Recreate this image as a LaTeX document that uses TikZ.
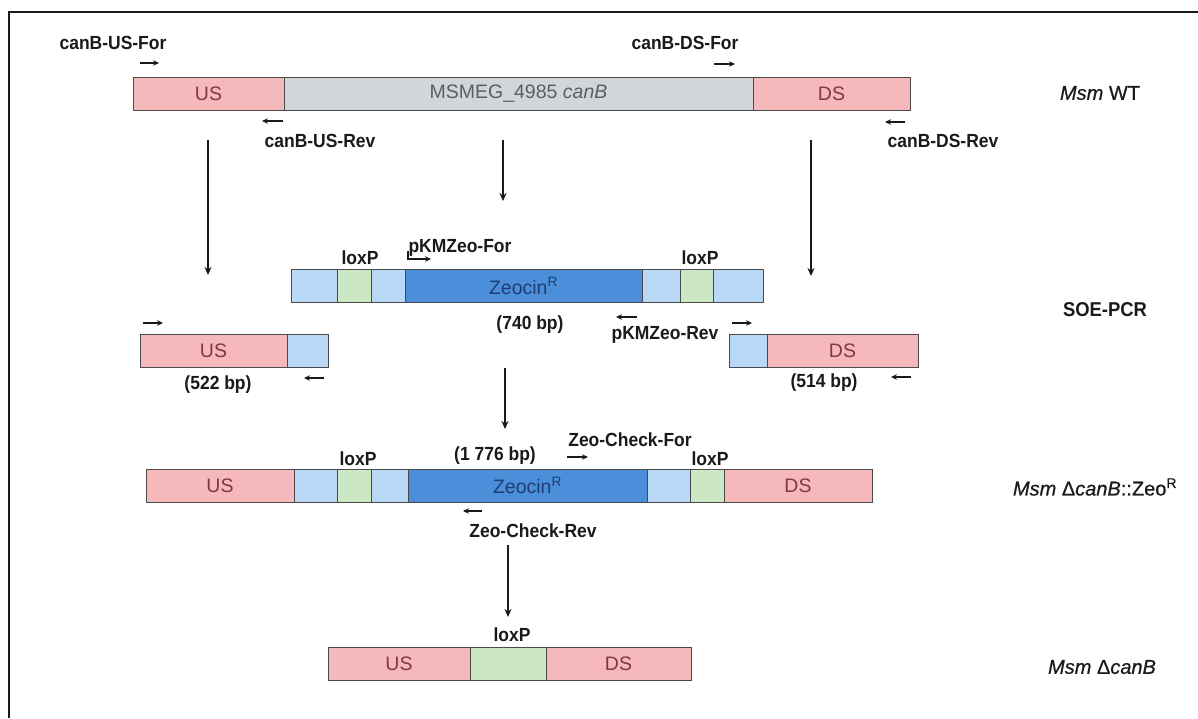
\documentclass[tikz,border=0pt]{standalone}
\usepackage{fontspec}
\setmainfont{Liberation Sans}
\newfontfamily\lblfont[FakeStretch=0.92]{Liberation Sans}
\newfontfamily\sidefont[FakeBold=0.6]{Liberation Sans}
\usetikzlibrary{arrows.meta}
\definecolor{pinkf}{HTML}{F5B9BB}
\definecolor{pinkt}{HTML}{7E3A3E}
\definecolor{grayf}{HTML}{D3D6D8}
\definecolor{grayt}{HTML}{5A5F63}
\definecolor{lbluef}{HTML}{B8D8F6}
\definecolor{greenf}{HTML}{CCE7C3}
\definecolor{dbluef}{HTML}{4B8FDA}
\definecolor{dbluet}{HTML}{1F3D72}
\definecolor{segline}{HTML}{4A4A4A}
\definecolor{ink}{HTML}{1A1A1A}
\newcommand{\segm}[6][]{\node[#1, minimum width={(#4-#3)*1pt}] (#2) at (#3,#5) {#6};}
\begin{document}
\begin{tikzpicture}[x=1pt,y=-1pt,
  seg/.style={draw=segline, line width=0.9pt, minimum height=33pt, inner sep=0pt, outer sep=0pt, anchor=west, font=\fontsize{19.5}{19.5}\selectfont},
  pinkseg/.style={seg, fill=pinkf, text=pinkt},
  grayseg/.style={seg, fill=grayf, text=grayt},
  lblueseg/.style={seg, fill=lbluef},
  greenseg/.style={seg, fill=greenf},
  dblueseg/.style={seg, fill=dbluef, text=dbluet},
  lbl/.style={text=ink, inner sep=0pt, font=\lblfont\bfseries\fontsize{19}{19}\selectfont},
  side/.style={text=ink, inner sep=0pt, font=\sidefont\fontsize{20}{20}\selectfont},
  primer/.style={draw=ink, line width=1.3pt, -{Stealth[length=6pt,width=5.5pt]}},
  flow/.style={draw=ink, line width=1.4pt, -{Stealth[length=8pt,width=7pt]}}
]
\useasboundingbox (0,0) rectangle (1198,718);
\fill[white] (0,0) rectangle (1198,718);
\draw[line width=2pt, ink] (9,718) -- (9,12) -- (1198,12);

% ---------- Row 1: Msm WT ----------
\segm[pinkseg]{wtus}{133}{284}{93.5}{US}
\segm[grayseg]{wtgene}{284}{753}{93.5}{MSMEG\_4985 \textit{canB}}
\segm[pinkseg]{wtds}{753}{910}{93.5}{DS}
\node[lbl] (usfor) at (113,43) {canB-US-For};
\coordinate (usforA) at (140,63); \coordinate (usforB) at (159,63);
\draw[primer] (usforA) -- (usforB);
\node[lbl] (usrev) at (320,141) {canB-US-Rev};
\coordinate (usrevA) at (283,121); \coordinate (usrevB) at (262,121);
\draw[primer] (usrevA) -- (usrevB);
\node[lbl] (dsfor) at (685,43) {canB-DS-For};
\coordinate (dsforA) at (714,64); \coordinate (dsforB) at (735,64);
\draw[primer] (dsforA) -- (dsforB);
\node[lbl] (dsrev) at (943,141) {canB-DS-Rev};
\coordinate (dsrevA) at (905,122); \coordinate (dsrevB) at (885,122);
\draw[primer] (dsrevA) -- (dsrevB);
\node[side] (wtlab) at (1100,93) {\textit{Msm} WT};

% flow arrows from row 1
\coordinate (f1a) at (208,140); \coordinate (f1b) at (208,275);
\coordinate (f2a) at (503,140); \coordinate (f2b) at (503,201);
\coordinate (f3a) at (811,140); \coordinate (f3b) at (811,276);
\draw[flow] (f1a) -- (f1b);
\draw[flow] (f2a) -- (f2b);
\draw[flow] (f3a) -- (f3b);

% ---------- Row 2: Zeocin cassette ----------
\segm[lblueseg]{c1}{291}{337}{286}{}
\segm[greenseg]{c2}{337}{371}{286}{}
\segm[lblueseg]{c3}{371}{405}{286}{}
\segm[dblueseg]{c4}{405}{642}{286}{Zeocin\textsuperscript{R}}
\segm[lblueseg]{c5}{642}{680}{286}{}
\segm[greenseg]{c6}{680}{713}{286}{}
\segm[lblueseg]{c7}{713}{763}{286}{}
\node[lbl] (lox1) at (360,258) {loxP};
\node[lbl] (lox2) at (700,258) {loxP};
\node[lbl] (pkfor) at (460,248) {pKMZeo-For};
\coordinate (pkforA) at (408,251); \coordinate (pkforB) at (431,259);
\draw[primer] (pkforA) |- (pkforB);
\node[lbl] (bp740) at (530,325) {(740 bp)};
\node[lbl] (pkrev) at (665,335) {pKMZeo-Rev};
\coordinate (pkrevA) at (637,317); \coordinate (pkrevB) at (616,317);
\draw[primer] (pkrevA) -- (pkrevB);
\node[lbl, font=\lblfont\bfseries\fontsize{20}{20}\selectfont] (soe) at (1105,310) {SOE-PCR};

% ---------- Row 3: fragments ----------
\segm[pinkseg]{fus}{140}{287}{350.5}{US}
\segm[lblueseg]{fusb}{287}{328}{350.5}{}
\coordinate (fusfA) at (143,323); \coordinate (fusfB) at (163,323);
\draw[primer] (fusfA) -- (fusfB);
\coordinate (fusrA) at (324,378); \coordinate (fusrB) at (304,378);
\draw[primer] (fusrA) -- (fusrB);
\node[lbl] (bp522) at (218,385) {(522 bp)};

\segm[lblueseg]{fdsb}{729}{767}{350.5}{}
\segm[pinkseg]{fds}{767}{918}{350.5}{DS}
\coordinate (fdsfA) at (732,323); \coordinate (fdsfB) at (752,323);
\draw[primer] (fdsfA) -- (fdsfB);
\coordinate (fdsrA) at (911,377); \coordinate (fdsrB) at (891,377);
\draw[primer] (fdsrA) -- (fdsrB);
\node[lbl] (bp514) at (824,383) {(514 bp)};

\coordinate (f4a) at (505,368); \coordinate (f4b) at (505,429);
\draw[flow] (f4a) -- (f4b);

% ---------- Row 4: Msm dcanB::ZeoR ----------
\segm[pinkseg]{kus}{146}{294}{485.5}{US}
\segm[lblueseg]{k1}{294}{337}{485.5}{}
\segm[greenseg]{k2}{337}{371}{485.5}{}
\segm[lblueseg]{k3}{371}{408}{485.5}{}
\segm[dblueseg]{k4}{408}{647}{485.5}{Zeocin\textsuperscript{R}}
\segm[lblueseg]{k5}{647}{690}{485.5}{}
\segm[greenseg]{k6}{690}{724}{485.5}{}
\segm[pinkseg]{kds}{724}{872}{485.5}{DS}
\node[lbl] (lox3) at (358,459) {loxP};
\node[lbl] (lox4) at (710,459) {loxP};
\node[lbl] (bp1776) at (495,456) {(1 776 bp)};
\node[lbl] (zcfor) at (630,440) {Zeo-Check-For};
\coordinate (zcforA) at (567,457); \coordinate (zcforB) at (588,457);
\draw[primer] (zcforA) -- (zcforB);
\node[lbl] (zcrev) at (533,531) {Zeo-Check-Rev};
\coordinate (zcrevA) at (482,511); \coordinate (zcrevB) at (463,511);
\draw[primer] (zcrevA) -- (zcrevB);
\node[side] (kolab) at (1095,487) {\textit{Msm} Δ\textit{canB}::Zeo\textsuperscript{R}};

\coordinate (f5a) at (508,545); \coordinate (f5b) at (508,617);
\draw[flow] (f5a) -- (f5b);

% ---------- Row 5: Msm dcanB ----------
\segm[pinkseg]{mus}{328}{470}{663.5}{US}
\segm[greenseg]{mlox}{470}{546}{663.5}{}
\segm[pinkseg]{mds}{546}{691}{663.5}{DS}
\node[lbl] (lox5) at (512,635) {loxP};
\node[side] (mlab) at (1102,667) {\textit{Msm} Δ\textit{canB}};
\end{tikzpicture}
\end{document}
